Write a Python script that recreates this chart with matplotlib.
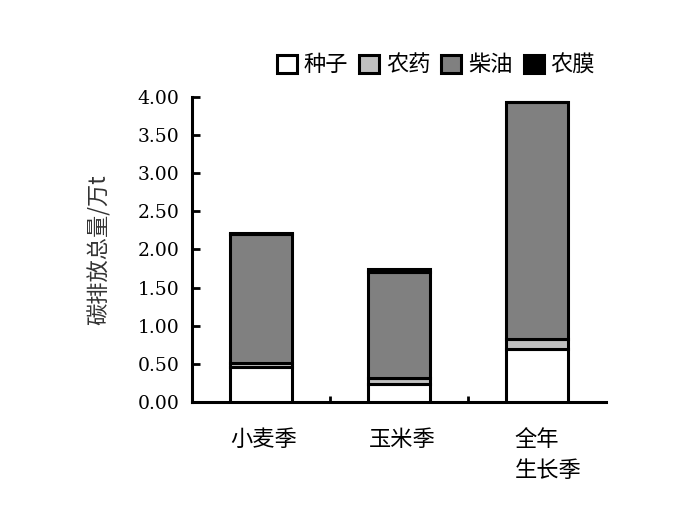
import numpy as np
import matplotlib
matplotlib.use("Agg")
import matplotlib.pyplot as plt
import matplotlib.transforms as mtransforms

cjk = ['Noto Sans CJK SC', 'DejaVu Sans']

categories = ["小麦季", "玉米季", "全年\n生长季"]
series_names = ["种子", "农药", "柴油", "农膜"]
seed = [0.46, 0.24, 0.70]
pesticide = [0.05, 0.08, 0.12]
diesel = [1.69, 1.39, 3.11]
film = [0.01, 0.03, 0.01]
y_ticks = [0.0, 0.5, 1.0, 1.5, 2.0, 2.5, 3.0, 3.5, 4.0]

colors = ["#ffffff", "#c0c0c0", "#808080", "#000000"]

fig = plt.figure(figsize=(6.94, 5.30), dpi=100)
ax = fig.add_axes([0.2767, 0.2415, 0.5965, 0.5755])

x = np.arange(len(categories))
bottom = np.zeros(len(categories))
for name, vals, c in zip(series_names, [seed, pesticide, diesel, film], colors):
    ax.bar(x, vals, 0.45, bottom=bottom, color=c, edgecolor="black",
           linewidth=2.2, label=name, zorder=3)
    bottom += np.array(vals)

ax.set_xlim(-0.5, 2.5)
ax.set_ylim(0, 4.0)
ax.set_yticks(y_ticks)
ax.set_yticklabels(["%.2f" % v for v in y_ticks])
for lab in ax.get_yticklabels():
    lab.set_fontfamily("DejaVu Serif")
    lab.set_fontsize(13.5)
ax.set_xticks([0.5, 1.5])
ax.set_xticklabels([])
ax.tick_params(axis="y", direction="in", length=6, width=2, pad=9)
ax.tick_params(axis="x", direction="in", length=4, width=2)

for s in ["top", "right"]:
    ax.spines[s].set_visible(False)
for s in ["left", "bottom"]:
    ax.spines[s].set_linewidth(2.2)

trans = mtransforms.blended_transform_factory(ax.transData, ax.transAxes)
ax.text(0.02, -0.085, categories[0], transform=trans, ha="center", va="top",
        fontsize=16, family=cjk)
ax.text(1.02, -0.085, categories[1], transform=trans, ha="center", va="top",
        fontsize=16, family=cjk)
ax.text(1.84, -0.085, categories[2], transform=trans, ha="left", va="top",
        fontsize=16, family=cjk, linespacing=1.45)

ax.set_ylabel("碳排放总量/万t", fontsize=16, color="#333333",
              family=cjk, labelpad=19)

leg = ax.legend(loc="center right", bbox_to_anchor=(1.0, 1.105), ncol=4,
                frameon=False, handlelength=0.9, handleheight=0.9,
                handletextpad=0.3, columnspacing=0.5, borderpad=0,
                prop={'family': cjk, 'size': 16})

fig.savefig("out.png", dpi=100)
